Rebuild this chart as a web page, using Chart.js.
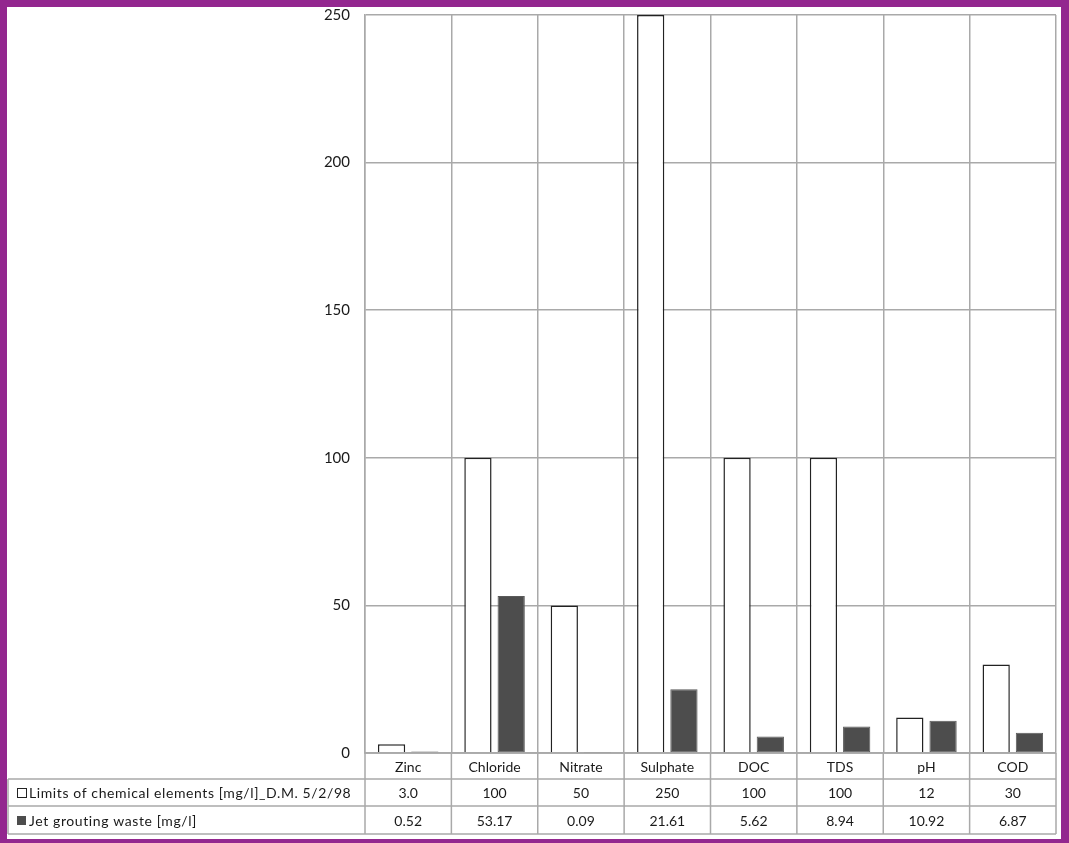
<!DOCTYPE html>
<html>
<head>
<meta charset="utf-8">
<title>Chemical elements: limits vs jet grouting waste</title>
<script src="https://cdn.jsdelivr.net/npm/chart.js@4.4.1/dist/chart.umd.min.js"></script>
<style>
  html, body { margin: 0; padding: 0; background: #ffffff; }
  #frame {
    position: absolute; left: 0; top: 0;
    width: 1069px; height: 843px; box-sizing: border-box;
    border-style: solid; border-color: #93278f;
    border-width: 7px 8px 4px 7px;
    background: #ffffff;
  }
  #wrap { position: relative; width: 1054px; height: 832px; }
</style>
</head>
<body>
<div id="frame"><div id="wrap"><canvas id="chart"></canvas></div></div>
<script>
// Parameters measured on the jet grouting waste sample
const categories = ['Zinc', 'Chloride', 'Nitrate', 'Sulphate', 'DOC', 'TDS', 'pH', 'COD'];
// Regulatory limits [mg/l] (D.M. 5/2/98)
const limitValues = [3.0, 100, 50, 250, 100, 100, 12, 30];
// Measured concentrations in the jet grouting waste [mg/l]
const wasteValues = [0.52, 53.17, 0.09, 21.61, 5.62, 8.94, 10.92, 6.87];
const seriesNames = ['Limits of chemical elements [mg/l]_D.M. 5/2/98', 'Jet grouting waste [mg/l]'];
const yTicks = [0, 50, 100, 150, 200, 250];

const FONT = 'Lato, "Open Sans", sans-serif';
const GRID = '#a9a9a9';
const DARK = '#4d4d4d';
const TEXT = '#1a1a1a';

const limitText = limitValues.map(v => v < 10 ? v.toFixed(1) : String(v));
const wasteText = wasteValues.map(v => v.toFixed(2));

// Data table under the plot: category row plus one row per series
const dataTable = {
  id: 'dataTable',
  afterDraw(chart) {
    const ctx = chart.ctx;
    const area = chart.chartArea;
    const x = chart.scales.x;
    const n = categories.length;
    const colW = (area.right - area.left) / n;
    const tableLeft = 1;
    const rowTops = [area.bottom, area.bottom + 26, area.bottom + 53, area.bottom + 81];

    ctx.save();
    ctx.strokeStyle = GRID;
    ctx.lineWidth = 1.5;
    ctx.beginPath();
    // horizontal rules
    ctx.moveTo(area.left, rowTops[0]); ctx.lineTo(area.right, rowTops[0]);
    for (let r = 1; r < rowTops.length; r++) {
      ctx.moveTo(tableLeft, rowTops[r]); ctx.lineTo(area.right, rowTops[r]);
    }
    // vertical rules
    for (let i = 0; i <= n; i++) {
      const px = area.left + i * colW;
      ctx.moveTo(px, rowTops[0]); ctx.lineTo(px, rowTops[3]);
    }
    ctx.moveTo(tableLeft, rowTops[1]); ctx.lineTo(tableLeft, rowTops[3]);
    ctx.stroke();

    ctx.fillStyle = TEXT;
    ctx.font = '14px ' + FONT;
    ctx.textAlign = 'center';
    ctx.textBaseline = 'middle';
    const rowMid = r => (rowTops[r] + rowTops[r + 1]) / 2 + 1;
    categories.forEach((c, i) => {
      const cx = x.getPixelForValue(i);
      ctx.fillText(c, cx, rowMid(0));
      ctx.fillText(limitText[i], cx, rowMid(1));
      ctx.fillText(wasteText[i], cx, rowMid(2));
    });

    // series keys
    ctx.textAlign = 'left';
    ctx.letterSpacing = '0.6px';
    ctx.fillText(seriesNames[0], 22, rowMid(1));
    ctx.fillText(seriesNames[1], 22, rowMid(2));
    ctx.letterSpacing = '0px';
    ctx.fillStyle = '#ffffff';
    ctx.fillRect(10.5, rowMid(1) - 5, 9, 9);
    ctx.strokeStyle = '#222222';
    ctx.lineWidth = 1;
    ctx.strokeRect(10.5, rowMid(1) - 5, 9, 9);
    ctx.fillStyle = DARK;
    ctx.fillRect(10, rowMid(2) - 5, 9, 9);
    ctx.restore();
  }
};

new Chart(document.getElementById('chart'), {
  type: 'bar',
  data: {
    labels: categories,
    datasets: [
      {
        label: seriesNames[0],
        data: limitValues,
        backgroundColor: '#ffffff',
        borderColor: '#222222',
        borderWidth: 1.5,
        categoryPercentage: 0.77,
        barPercentage: 0.82
      },
      {
        label: seriesNames[1],
        data: wasteValues,
        backgroundColor: DARK,
        borderColor: '#5a5a5a',
        borderWidth: 1,
        borderSkipped: false,
        categoryPercentage: 0.77,
        barPercentage: 0.82
      }
    ]
  },
  options: {
    responsive: true,
    maintainAspectRatio: false,
    animation: false,
    layout: { padding: { top: 8, right: 5, bottom: 86, left: 0 } },
    plugins: {
      legend: { display: false },
      tooltip: { enabled: false }
    },
    scales: {
      x: {
        offset: true,
        grid: { display: true, offset: true, color: GRID, lineWidth: 1.5, drawTicks: false },
        border: { display: true, color: GRID, width: 1.5 },
        ticks: { display: false },
        afterFit(scale) { scale.height = 0; scale.paddingLeft = 0; scale.paddingRight = 0; }
      },
      y: {
        min: 0,
        max: 250,
        afterBuildTicks(scale) { scale.ticks = yTicks.map(v => ({ value: v })); },
        grid: { color: GRID, lineWidth: 1.5, drawTicks: false },
        border: { display: true, color: GRID, width: 1.5 },
        ticks: { color: TEXT, font: { family: FONT, size: 15 }, padding: 15 },
        afterFit(scale) { scale.width = 358; scale.paddingTop = 0; scale.paddingBottom = 0; }
      }
    }
  },
  plugins: [dataTable]
});
</script>
</body>
</html>
